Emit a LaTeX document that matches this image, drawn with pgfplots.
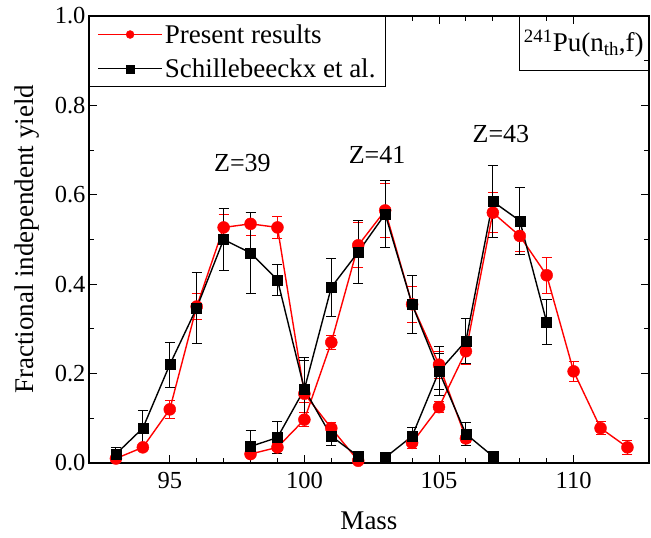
\documentclass[border=0pt]{standalone}
\usepackage{fontspec}
\setmainfont{Liberation Serif}
\usepackage{pgfplots}
\usepackage{pgfplotstable}
\pgfplotsset{compat=1.18}

% Present results (red), Z=39, 41, 43
\pgfplotstableread{
x y e
93 0.010 0.005
94 0.035 0.006
95 0.120 0.020
96 0.350 0.030
97 0.527 0.030
98 0.535 0.025
99 0.527 0.025
100 0.155 0.020
101 0.078 0.012
102 0.005 0.004
}\redA
\pgfplotstableread{
x y e
98 0.020 0.005
99 0.035 0.008
100 0.097 0.015
101 0.270 0.015
102 0.487 0.050
103 0.565 0.060
104 0.355 0.040
105 0.220 0.030
106 0.055 0.010
}\redB
\pgfplotstableread{
x y e
104 0.045 0.012
105 0.125 0.012
106 0.250 0.030
107 0.560 0.045
108 0.508 0.035
109 0.420 0.040
110 0.205 0.022
111 0.078 0.015
112 0.035 0.015
}\redC
% Schillebeeckx et al. (black)
\pgfplotstableread{
x y e
93 0.020 0.015
94 0.078 0.040
95 0.220 0.050
96 0.347 0.080
97 0.500 0.070
98 0.470 0.090
99 0.410 0.035
100 0.165 0.065
101 0.060 0.020
102 0.015 0.005
}\blkA
\pgfplotstableread{
x y e
98 0.037 0.035
99 0.057 0.035
100 0.165 0.070
101 0.393 0.065
102 0.472 0.070
103 0.557 0.075
104 0.355 0.065
105 0.205 0.040
106 0.065 0.025
107 0.015 0.010
}\blkB
\pgfplotstableread{
x y e
103 0.012 0.005
104 0.060 0.020
105 0.205 0.055
106 0.273 0.050
107 0.585 0.080
108 0.542 0.075
109 0.315 0.050
}\blkC

\newcommand{\tickfont}{\fontsize{24.5}{28}\selectfont}
\newcommand{\labfont}{\fontsize{27}{31}\selectfont}
\newcommand{\zfont}{\fontsize{26}{30}\selectfont}

\pgfplotsset{
  redser/.style={red, line width=1.4pt, mark=*, mark size=6pt,
    mark options={solid, line width=0.4pt},
    error bars/.cd, y dir=both, y explicit,
    error bar style={line width=1pt},
    error mark options={rotate=90, mark size=5pt, line width=1pt},
    /pgfplots/.cd},
  blkser/.style={black, line width=1.4pt, mark=square*, mark size=5pt,
    mark options={solid, line width=0.4pt},
    error bars/.cd, y dir=both, y explicit,
    error bar style={line width=1pt},
    error mark options={rotate=90, mark size=5pt, line width=1pt},
    /pgfplots/.cd},
}

\begin{document}
\begin{tikzpicture}
\begin{axis}[
  scale only axis,
  width=560pt, height=447pt,
  xmin=92, xmax=112.8,
  ymin=0, ymax=1,
  xtick={95,100,105,110},
  minor x tick num=4,
  ytick={0,0.2,0.4,0.6,0.8,1.0},
  minor y tick num=1,
  tick align=inside,
  major tick length=8pt,
  minor tick length=5pt,
  tick style={line width=1pt, black},
  axis line style={line width=1.3pt},
  yticklabel style={/pgf/number format/.cd, fixed, fixed zerofill, precision=1},
  /pgf/number format/assume math mode=true,
  tick label style={font=\tickfont},
  xticklabel style={yshift=-6pt},
  label style={font=\labfont},
  xlabel={Mass},
  ylabel={Fractional independent yield},
  xlabel shift=16pt,
  ylabel shift=9pt,
  legend style={at={(0,1)}, anchor=north west, draw=black, line width=0.8pt,
    font=\labfont, inner xsep=8pt, inner ysep=6pt, row sep=10pt},
  legend cell align=left,
  legend image code/.code={
    \draw[mark repeat=2, mark phase=2, #1, mark size=4pt]
      plot coordinates {(0pt,0pt) (32pt,0pt) (64pt,0pt)};},
]
\addplot[redser] table[x=x, y=y, y error=e] {\redA};
\addplot[forget plot, redser] table[x=x, y=y, y error=e] {\redB};
\addplot[forget plot, redser] table[x=x, y=y, y error=e] {\redC};
\addplot[blkser] table[x=x, y=y, y error=e] {\blkA};
\addplot[forget plot, blkser] table[x=x, y=y, y error=e] {\blkB};
\addplot[forget plot, blkser] table[x=x, y=y, y error=e] {\blkC};
\legend{Present results, Schillebeeckx et al.}

\node[font=\zfont] at (axis cs:97.7,0.67) {Z=39};
\node[font=\zfont] at (axis cs:102.7,0.69) {Z=41};
\node[font=\zfont] at (axis cs:107.3,0.735) {Z=43};
\node[draw, line width=0.8pt, anchor=north west, font=\labfont,
  minimum width=140pt, minimum height=54pt, inner sep=3pt, text width=130pt]
  at (rel axis cs:0.767,1) {\textsuperscript{241}Pu(n\textsubscript{th},f)};
\end{axis}
\pgfresetboundingbox
\path[use as bounding box] (-89pt,-75pt) rectangle (562pt,463pt);
\end{tikzpicture}
\end{document}
